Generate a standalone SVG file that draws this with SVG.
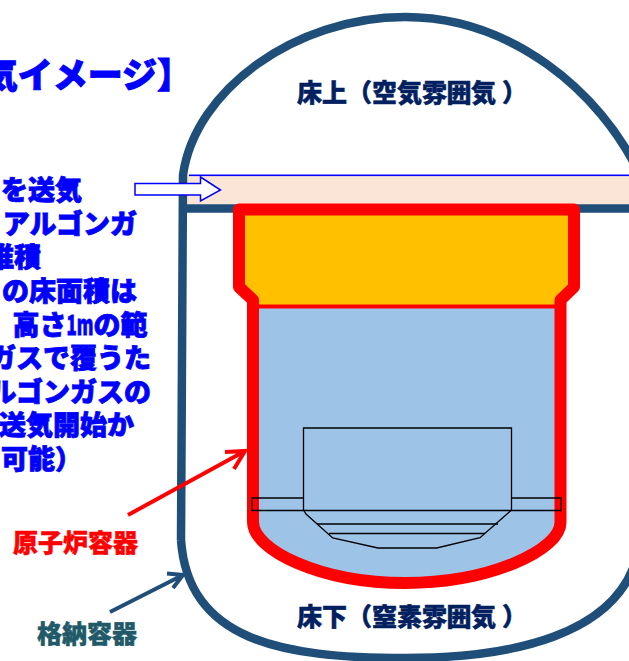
<svg xmlns="http://www.w3.org/2000/svg" width="629" height="661" viewBox="0 0 629 661">
<style>
text{font-family:"Noto Sans CJK JP","Noto Sans",sans-serif;font-weight:900}
.b{fill:#0000ff;stroke:#0000ff;stroke-width:.8;font-size:27px;text-anchor:end}
.k{fill:#002060;font-size:25px;stroke:#002060;stroke-width:.5}
.th{fill:none;stroke:#000;stroke-width:1.3}
.ves{fill:none;stroke:#ff0000;stroke-width:12;stroke-linejoin:round}
</style>
<rect width="629" height="661" fill="#fff"/>
<g id="band">
<rect x="187" y="175" width="442" height="30" fill="#FBE5D6"/>
</g>
<g id="containment" fill="none" stroke="#1F4E79" stroke-width="8.500">
<path d="M181 540L183 175C195 90 295 17 405 17C510 17 600 90 640 175"/>
<path d="M181 540C188 640 280 658 405 658C500 658 629 640 640 540"/>
<path d="M183 208.500H629"/>
</g>
<rect id="band-top" x="189" y="174.500" width="440" height="1.600" fill="#0000ff"/>
<g id="vessel">
<path d="M239 209.500H574V287L560.500 300V306H253V300L239 287Z" fill="#FFC000"/>
<path d="M253 306H560.500V522C561 550 490 583 405 583C320 583 253 550 253 522Z" fill="#9DC3E6"/>
<path class="ves" d="M239 209.500H574V287L560.500 300V522C561 550 490 583 405 583C320 583 253 550 253 522V300L239 287Z"/>
<line x1="253" y1="306.500" x2="561" y2="306.500" stroke="#ff0000" stroke-width="4"/>
</g>
<g id="core">
<path class="th" d="M303.500 510V428H511.500V510"/>
<path class="th" d="M303.500 498H252V510.500H561V498H511.500"/>
<path class="th" d="M303.500 510L306 514L332.700 538L378 548H436.700L480 537.700L511.500 510"/>
<path class="th" d="M317 524H498M329 533.500H485"/>
</g>
<g id="connectors">
<path d="M135 183.500H200.500V177L220.500 190L200.500 201V195H135Z" fill="#fff" stroke="#0000ff" stroke-width="1.500"/>
<path d="M128 515L245 451M225 452L245 451L234 469" fill="none" stroke="#ff0000" stroke-width="4"/>
<path d="M110 612L183 575M167 573.500L183 575L173 588" fill="none" stroke="#1F4E79" stroke-width="4"/>
</g>
<g id="title"><text x="192" y="88" font-size="35" fill="#0000ff" stroke="#0000ff" stroke-width="1" text-anchor="end">気イメージ】</text></g>
<g id="note">
<text class="b" x="82" y="200">を送気</text>
<text class="b" x="137" y="234">アルゴンガ</text>
<text class="b" x="41" y="267">堆積</text>
<text class="b" x="137" y="301">の床面積は</text>
<text class="b" x="147.500" y="335">高さ<tspan textLength="27" lengthAdjust="spacingAndGlyphs">1m</tspan>の範</text>
<text class="b" x="151" y="368">ガスで覆うた</text>
<text class="b" x="151" y="402">ルゴンガスの</text>
<text class="b" x="134" y="435">送気開始か</text>
<text class="b" x="82" y="469">可能）</text>
</g>
<g id="upper"><text class="k" x="297 322 347 372 397 422 446.500 471 502" y="102">床上（空気雰囲気）</text></g>
<g id="lower"><text class="k" x="297 322 347 372 397 422 446.500 471 502" y="626">床下（窒素雰囲気）</text></g>
<g id="rpv"><text x="13" y="552" font-size="25" fill="#ff0000" stroke="#ff0000" stroke-width=".5">原子炉容器</text></g>
<g id="pcv"><text x="37" y="643" font-size="25" fill="#215968" stroke="#215968" stroke-width=".5">格納容器</text></g>
</svg>
